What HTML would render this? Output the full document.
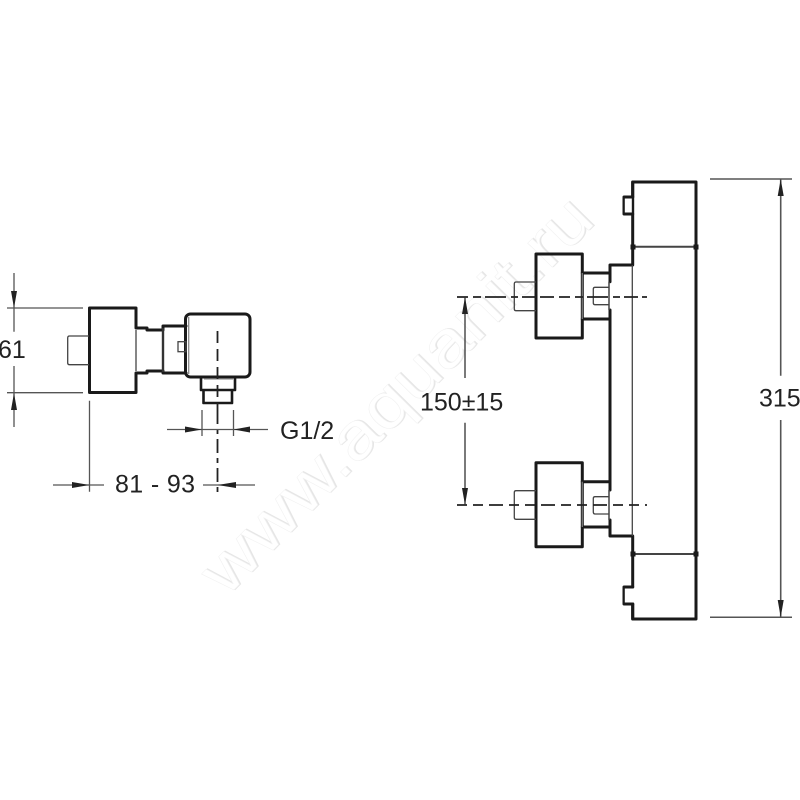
<!DOCTYPE html>
<html>
<head>
<meta charset="utf-8">
<style>
html,body{margin:0;padding:0;background:#fff;}
svg{display:block;}
text{font-family:"Liberation Sans",sans-serif;fill:#222;font-size:25px;}
.k{fill:none;stroke:#1a1a1a;stroke-width:3;stroke-linejoin:round;stroke-linecap:round;}
.m{fill:none;stroke:#333;stroke-width:2;stroke-linejoin:round;}
.t{fill:none;stroke:#444;stroke-width:1.3;}
.d{fill:none;stroke:#555;stroke-width:1.3;}
.c{fill:none;stroke:#222;stroke-width:1.8;}
.a{fill:#222;stroke:none;}
.drawing{filter:blur(0.35px);}
</style>
</head>
<body>
<svg width="800" height="800" viewBox="0 0 800 800" xmlns="http://www.w3.org/2000/svg">
<rect width="800" height="800" fill="#fff"/>

<!-- watermark -->
<g transform="rotate(-45.4 226 598)">
<text x="227.2" y="598.6" textLength="528" lengthAdjust="spacingAndGlyphs" style="font-size:65px;fill:#e6e6e6;stroke:#e6e6e6;stroke-width:0.8">www.aquanit.ru</text>
<text x="226" y="598" textLength="528" lengthAdjust="spacingAndGlyphs" style="font-size:65px;fill:#fff;stroke:#f1f1f1;stroke-width:0.5">www.aquanit.ru</text>
</g>

<g class="drawing">
<!-- LEFT VIEW -->
<path class="k" d="M89.5 308H136V328H147V330H163V326H186M89.5 308V392.5H136V373H147V371H163V373H186"/>
<path class="t" d="M89 336H69.5Q67.7 336 67.7 338V363Q67.7 364.7 69.5 364.7H89"/>
<path class="t" d="M136 330V371"/>
<path class="m" d="M163 328V372" style="stroke-width:2.4"/>
<rect class="k" x="185.5" y="314" width="64.5" height="63" rx="5"/>
<path class="t" d="M188.7 317V374" style="stroke:#888"/>
<rect class="t" x="178" y="341.7" width="8" height="10"/>
<path class="k" style="stroke-width:2.6" d="M201 377.5V390H235V377.5M203.5 390V403H232V390"/>
<path class="t" d="M204 379H233" style="stroke:#999"/>

<path class="c" stroke-dasharray="12 6" d="M217.5 331V410"/>
<path class="c" stroke-dasharray="14 5 5 5" d="M217.5 410V493"/>

<path class="d" d="M202 410V436M233.5 410V436M167 429.5H268"/>
<path class="a" d="M202 429.5L185 426.5V432.5ZM233.5 429.5L250 426.5V432.5Z"/>

<path class="d" d="M89.5 400.7V491.7M53 485H104M203 485H255"/>
<path class="a" d="M89.5 485L72 482V488ZM217.5 485L236 482V488Z"/>

<path class="d" d="M7 308H83M7 392.7H83M14 273V331.7M14 366V427"/>
<path class="a" d="M14 308L11 291H17ZM14 393L11 410H17Z"/>

<!-- RIGHT VIEW: body -->
<path class="k" d="M632.7 214V182H696V619H632.7V604M632.7 587V554V536H610V520M610 490V310M610 281.7V265H632.7V246.7V214"/>
<path class="k" d="M632.7 197H624V214H632.7M632.7 587H624V604H632.7"/>
<path class="t" d="M609 281.7V310M609 490V520" style="stroke-width:1.5"/>
<rect x="624.8" y="198.5" width="7" height="14" fill="#fff"/>
<rect x="624.8" y="588.5" width="7" height="14" fill="#fff"/>
<path class="k" d="M632.7 197V182M632.7 604V619"/>
<path class="t" d="M632.3 265V536"/>
<path class="m" d="M633 246.7H696M633 554H696" style="stroke:#444"/>
<rect x="630.5" y="244.5" width="5" height="5" fill="#1a1a1a"/>
<rect x="693.5" y="244.5" width="5" height="5" fill="#1a1a1a"/>
<rect x="630.5" y="551.5" width="5" height="5" fill="#1a1a1a"/>
<rect x="693.5" y="551.5" width="5" height="5" fill="#1a1a1a"/>

<!-- upper knob -->
<rect class="k" x="536" y="254" width="46.3" height="84"/>
<path class="k" d="M582.3 273H609M582.3 319H609"/>
<path class="t" d="M582.3 273V319" style="stroke:#777"/>
<path class="t" d="M536 282H516Q514.3 282 514.3 284V309Q514.3 310.7 516 310.7H536"/>
<path class="t" d="M609 287.3H595Q593.3 287.3 593.3 289V303Q593.3 304.7 595 304.7H609"/>
<path class="c" stroke-dasharray="11 5 8 4 21 5 7 4 14 4 14 5" d="M457 297H647"/>

<!-- lower knob -->
<rect class="k" x="536" y="462.7" width="46.3" height="84"/>
<path class="k" d="M582.3 481.7H609M582.3 527H609"/>
<path class="t" d="M582.3 481.7V527" style="stroke:#777"/>
<path class="t" d="M536 490.7H516Q514.3 490.7 514.3 492.5V517.5Q514.3 519.3 516 519.3H536"/>
<path class="t" d="M609 496.7H595Q593.3 496.7 593.3 498.5V512Q593.3 514 595 514H609"/>
<path class="c" stroke-dasharray="10 6 10 6 14 6" d="M457 505H647"/>

<!-- 150 dim -->
<path class="d" d="M465 297V378M465 422.7V505" style="stroke:#333"/>
<path class="a" d="M465 297L462 314H468ZM465 505L462 488H468Z"/>

<!-- 315 dim -->
<path class="d" d="M710 179H792M710 617.3H792" style="stroke-width:1.5"/>
<path class="d" d="M780.7 179V375.7M780.7 420V617.3" style="stroke-width:1.6"/>
<path class="a" d="M780.7 179L777.7 196H783.7ZM780.7 617.3L777.7 600H783.7Z"/>
</g>

<text x="-2" y="358">61</text>
<text x="115" y="492.7" textLength="80" lengthAdjust="spacing">81 - 93</text>
<text x="280" y="439">G1/2</text>
<text x="420" y="410.7">150±15</text>
<text x="759" y="406.7">315</text>
</svg>
</body>
</html>
